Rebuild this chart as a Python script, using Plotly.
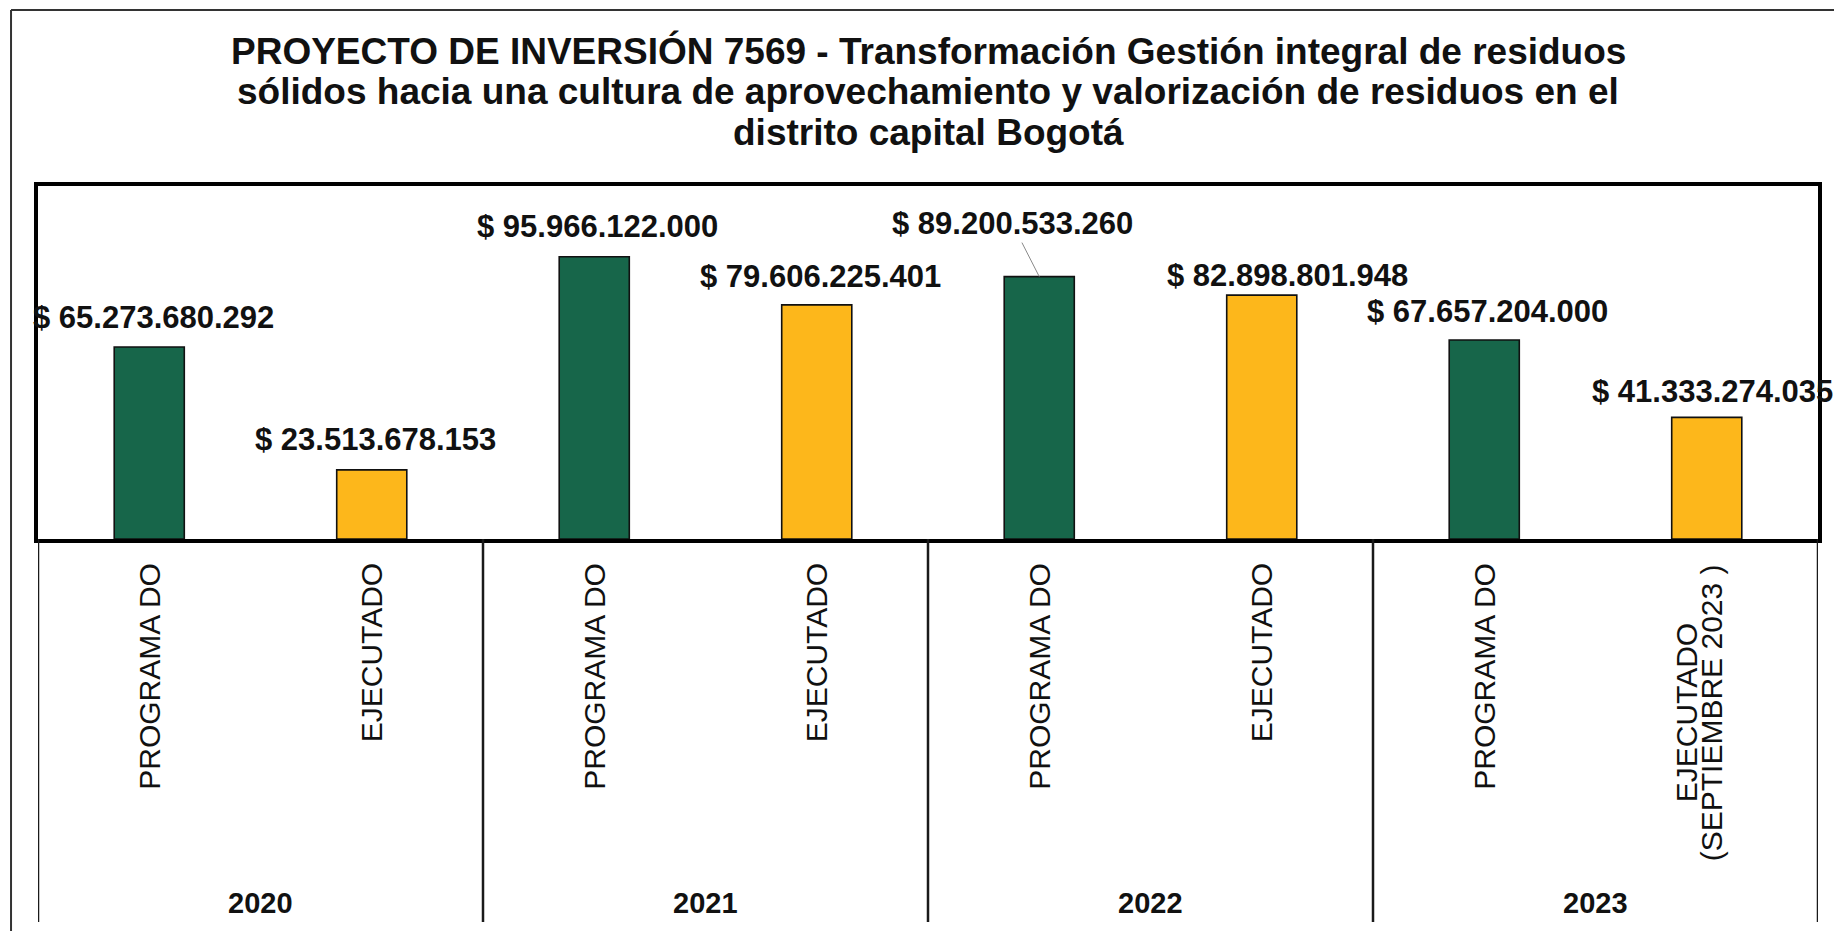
import plotly.graph_objects as go

# ---------------- data ----------------
years = ["2020", "2020", "2021", "2021", "2022", "2022", "2023", "2023"]
stages = ["PROGRAMADO", "EJECUTADO", "PROGRAMADO", "EJECUTADO",
          "PROGRAMADO", "EJECUTADO", "PROGRAMADO", "EJECUTADO"]
stage_labels = ["PROGRAMA DO", "EJECUTADO", "PROGRAMA DO", "EJECUTADO",
                "PROGRAMA DO", "EJECUTADO", "PROGRAMA DO",
                "EJECUTADO<br>(SEPTIEMBRE 2023 )"]
values = [65273680292, 23513678153, 95966122000, 79606225401,
          89200533260, 82898801948, 67657204000, 41333274035]
value_labels = ["$ 65.273.680.292", "$ 23.513.678.153", "$ 95.966.122.000",
                "$ 79.606.225.401", "$ 89.200.533.260", "$ 82.898.801.948",
                "$ 67.657.204.000", "$ 41.333.274.035"]
year_groups = ["2020", "2021", "2022", "2023"]
title_lines = [
    "PROYECTO DE INVERSIÓN 7569 - Transformación Gestión integral de residuos",
    "sólidos hacia una cultura de aprovechamiento y valorización de residuos en el",
    "distrito capital Bogotá",
]

# ---------------- styling ----------------
GREEN = "#17664A"
YELLOW = "#FDB71B"
FONT = "Liberation Sans, Arial, sans-serif"
W, H = 1834, 931
L, R, T, B = 38, 14, 186, 392
PW, PH = W - L - R, H - T - B
# per-label offsets (pixels) for the value labels: (xshift, yshift)
label_offsets = [(4, 29), (4, 30), (3, 30), (4, 28), None, (26, 20), (3, 28), (6, 26)]


def px2x(px):
    return (px - L) / PW


def py2y(py):
    return (H - B - py) / PH


cats = [f"{y} {s}" for y, s in zip(years, stages)]

fig = go.Figure()
for stage, color in [("PROGRAMADO", GREEN), ("EJECUTADO", YELLOW)]:
    idx = [i for i, s in enumerate(stages) if s == stage]
    fig.add_trace(go.Bar(
        x=[cats[i] for i in idx], y=[values[i] for i in idx], name=stage,
        marker=dict(color=color, line=dict(color="#111111", width=1.6)),
        width=0.315, showlegend=False, hoverinfo="x+y",
    ))

annotations = []
# value labels
for i, (c, v, lab) in enumerate(zip(cats, values, value_labels)):
    txt = f"<b>{lab}</b>"
    if label_offsets[i] is None:
        annotations.append(dict(
            x=c, y=v, xref="x", yref="y", text=txt, showarrow=True,
            arrowhead=0, arrowwidth=1, arrowcolor="#8a8a8a", ax=-27, ay=-53,
            standoff=0, font=dict(family=FONT, size=31, color="#111111"),
        ))
    else:
        dx, dy = label_offsets[i]
        annotations.append(dict(
            x=c, y=v, xref="x", yref="y", text=txt, showarrow=False,
            xanchor="center", yanchor="middle", xshift=dx, yshift=dy,
            font=dict(family=FONT, size=31, color="#111111"),
        ))

# category (stage) labels
for c, lab in zip(cats, stage_labels):
    parts = lab.split("<br>")
    if len(parts) == 1:
        annotations.append(dict(
            x=c, y=0, xref="x", yref="paper", text=lab, showarrow=False,
            textangle=-90, xanchor="center", yanchor="top", yshift=-22,
            font=dict(family=FONT, size=30, color="#111111"),
        ))
    else:
        n = len(parts)
        for j, part in enumerate(parts):
            annotations.append(dict(
                x=c, y=0, xref="x", yref="paper", text=part, showarrow=False,
                textangle=-90, xanchor="center", yanchor="middle",
                xshift=-8 + (j - (n - 1) / 2) * 25, yshift=-174,
                font=dict(family=FONT, size=30, color="#111111"),
            ))
# year labels
for g, yr in enumerate(year_groups):
    annotations.append(dict(
        x=2 * g + 0.5, y=py2y(903), xref="x", yref="paper",
        text=f"<b>{yr}</b>", showarrow=False, xanchor="center", yanchor="middle",
        font=dict(family=FONT, size=29, color="#111111"),
    ))
# title lines
for line, py in zip(title_lines, [51, 91, 132]):
    annotations.append(dict(
        x=0.5, y=py2y(py), xref="paper", yref="paper", text=f"<b>{line}</b>",
        showarrow=False, xanchor="center", yanchor="middle",
        font=dict(family=FONT, size=37, color="#111111"),
    ))

shapes = []
# group dividers below the axis
for k in range(len(year_groups) + 1):
    shapes.append(dict(
        type="line", xref="x", yref="paper", x0=2 * k - 0.5, x1=2 * k - 0.5,
        y0=0, y1=py2y(922), line=dict(color="#1a1a1a", width=2.5),
    ))
# outer chart frame (top and left edges)
shapes.append(dict(type="line", xref="paper", yref="paper",
                   x0=px2x(11), x1=px2x(W + 5), y0=py2y(10), y1=py2y(10),
                   line=dict(color="#333333", width=2)))
shapes.append(dict(type="line", xref="paper", yref="paper",
                   x0=px2x(11), x1=px2x(11), y0=py2y(10), y1=py2y(H + 5),
                   line=dict(color="#333333", width=2)))

fig.update_layout(
    width=W, height=H,
    margin=dict(l=L, r=R, t=T, b=B, pad=0),
    paper_bgcolor="white", plot_bgcolor="white",
    barmode="overlay",
    annotations=annotations, shapes=shapes,
    xaxis=dict(type="category", categoryorder="array", categoryarray=cats,
               range=[-0.5, len(cats) - 0.5], showticklabels=False,
               ticks="", showgrid=False, zeroline=False,
               showline=True, mirror=True, linecolor="#000000", linewidth=3.5),
    yaxis=dict(range=[0, 120e9], showticklabels=False, ticks="",
               showgrid=False, zeroline=False,
               showline=True, mirror=True, linecolor="#000000", linewidth=3.5),
    font=dict(family=FONT),
)

fig.write_html(
    "out.html",
    config={"displayModeBar": False},
    post_script="document.body.style.margin='0';document.body.style.overflow='hidden';",
)
